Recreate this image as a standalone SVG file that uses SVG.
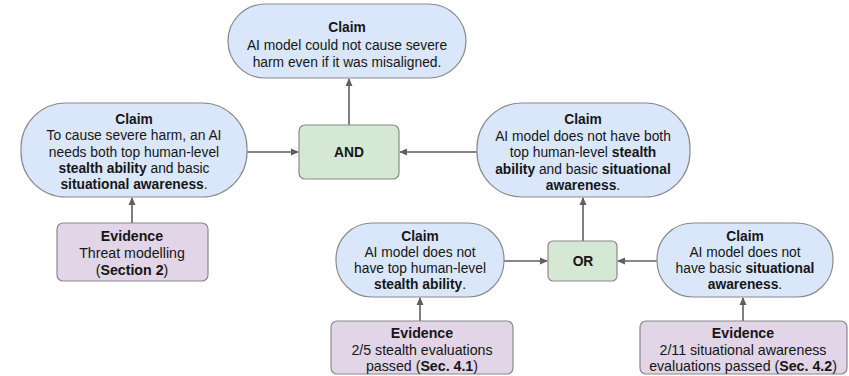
<svg xmlns="http://www.w3.org/2000/svg" width="849" height="376" viewBox="0 0 849 376">
  <defs>
    <marker id="arrow" markerWidth="8" markerHeight="8" refX="7" refY="4" orient="auto" markerUnits="userSpaceOnUse">
      <path d="M0,0.5 L8,4 L0,7.5 Z" fill="#5f5f5f"/>
    </marker>
  </defs>
  <style>
    text { font-family: "Liberation Sans", Arial, sans-serif; font-size: 13.8px; fill: #161616; text-anchor: middle; dominant-baseline: central; }
    .ev text { font-size: 14.2px; }
    .b { font-weight: bold; }
    .claim { fill: #dae7fa; stroke: #8a8a8a; stroke-width: 1.2; }
    .evid { fill: #e1d5e7; stroke: #8a8a8a; stroke-width: 1.2; }
    .gate { fill: #d5e8d4; stroke: #8a8a8a; stroke-width: 1.2; }
    .edge { stroke: #5f5f5f; stroke-width: 1.6; fill: none; marker-end: url(#arrow); }
  </style>

  <!-- connectors -->
  <g id="connectors">
    <line class="edge" x1="349" y1="125" x2="349" y2="79"/>
    <line class="edge" x1="247" y1="152" x2="298" y2="152"/>
    <line class="edge" x1="477" y1="152" x2="400" y2="152"/>
    <line class="edge" x1="583" y1="241" x2="583" y2="198"/>
    <line class="edge" x1="504" y1="261" x2="547" y2="261"/>
    <line class="edge" x1="657" y1="261" x2="618" y2="261"/>
    <line class="edge" x1="132" y1="223" x2="132" y2="198"/>
    <line class="edge" x1="420" y1="321" x2="420" y2="298"/>
    <line class="edge" x1="743" y1="321" x2="743" y2="298"/>
  </g>

  <!-- top claim -->
  <g id="claim-top">
    <rect class="claim" x="228" y="4" width="238" height="74" rx="37"/>
    <text class="b" x="347" y="27">Claim</text>
    <text x="347" y="45">AI model could not cause severe</text>
    <text x="347" y="62">harm even if it was misaligned.</text>
  </g>

  <!-- left claim -->
  <g id="claim-left">
    <rect class="claim" x="21" y="103" width="226" height="94" rx="45"/>
    <text class="b" x="134" y="119">Claim</text>
    <text x="134" y="135">To cause severe harm, an AI</text>
    <text x="134" y="152">needs both top human-level</text>
    <text x="134" y="168"><tspan class="b">stealth ability</tspan> and basic</text>
    <text x="134" y="184"><tspan class="b">situational awareness</tspan>.</text>
  </g>

  <!-- AND gate -->
  <g id="gate-and">
    <rect class="gate" x="299" y="125" width="100" height="54" rx="6"/>
    <text class="b" x="349" y="152">AND</text>
  </g>

  <!-- right claim -->
  <g id="claim-right">
    <rect class="claim" x="477" y="103" width="213" height="94" rx="45"/>
    <text class="b" x="583" y="119">Claim</text>
    <text x="583" y="136">AI model does not have both</text>
    <text x="583" y="152">top human-level <tspan class="b">stealth</tspan></text>
    <text x="583" y="169"><tspan class="b">ability</tspan> and basic <tspan class="b">situational</tspan></text>
    <text x="583" y="185"><tspan class="b">awareness</tspan>.</text>
  </g>

  <!-- OR gate -->
  <g id="gate-or">
    <rect class="gate" x="548" y="241" width="69" height="40" rx="5"/>
    <text class="b" x="583" y="261">OR</text>
  </g>

  <!-- stealth claim -->
  <g id="claim-stealth">
    <rect class="claim" x="336" y="223" width="168" height="74" rx="36"/>
    <text class="b" x="420" y="236">Claim</text>
    <text x="420" y="252">AI model does not</text>
    <text x="420" y="268">have top human-level</text>
    <text x="420" y="284"><tspan class="b">stealth ability</tspan>.</text>
  </g>

  <!-- situational awareness claim -->
  <g id="claim-awareness">
    <rect class="claim" x="657" y="223" width="176" height="74" rx="36"/>
    <text class="b" x="745" y="236">Claim</text>
    <text x="745" y="252">AI model does not</text>
    <text x="745" y="268">have basic <tspan class="b">situational</tspan></text>
    <text x="745" y="284"><tspan class="b">awareness</tspan>.</text>
  </g>

  <!-- evidence: threat modelling -->
  <g id="evidence-threat" class="ev">
    <rect class="evid" x="57" y="223" width="151" height="58" rx="6"/>
    <text class="b" x="132" y="236">Evidence</text>
    <text x="132" y="253">Threat modelling</text>
    <text x="132" y="270">(<tspan class="b">Section 2</tspan>)</text>
  </g>

  <!-- evidence: stealth evaluations -->
  <g id="evidence-stealth" class="ev">
    <rect class="evid" x="331" y="321" width="182" height="53" rx="6"/>
    <text class="b" x="422" y="333">Evidence</text>
    <text x="422" y="350">2/5 stealth evaluations</text>
    <text x="422" y="366">passed (<tspan class="b">Sec. 4.1</tspan>)</text>
  </g>

  <!-- evidence: situational awareness evaluations -->
  <g id="evidence-awareness" class="ev">
    <rect class="evid" x="640" y="321" width="207" height="53" rx="6"/>
    <text class="b" x="743" y="333">Evidence</text>
    <text x="743" y="350">2/11 situational awareness</text>
    <text x="743" y="366">evaluations passed (<tspan class="b">Sec. 4.2</tspan>)</text>
  </g>
</svg>
